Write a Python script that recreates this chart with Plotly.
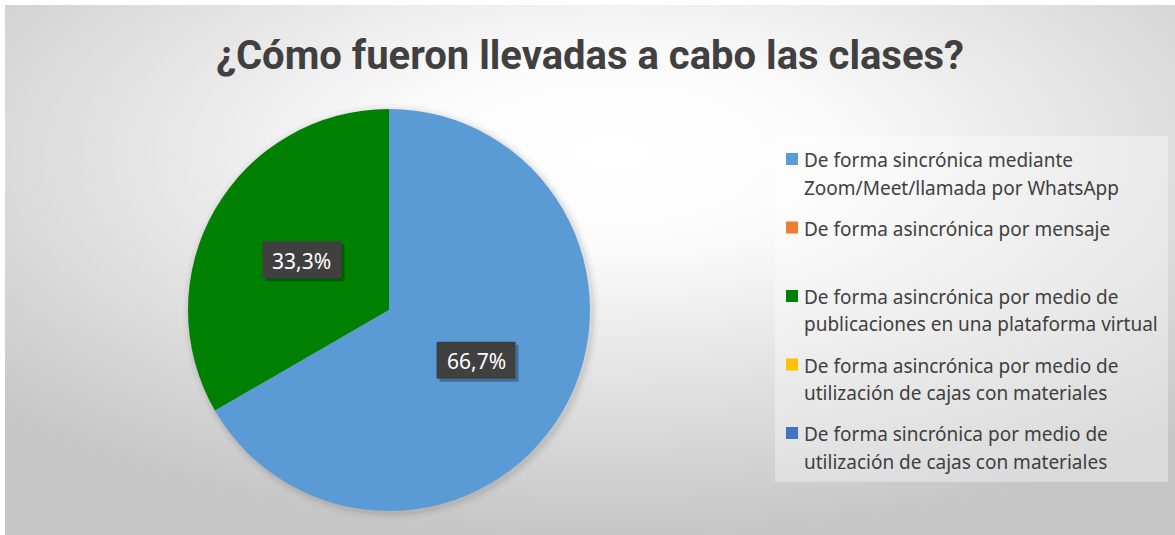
import base64
import math
import plotly.graph_objects as go

# Data
labels = [
    "De forma sincrónica mediante<br>Zoom/Meet/llamada por WhatsApp",
    "De forma asincrónica por mensaje<br>",
    "De forma asincrónica por medio de<br>publicaciones en una plataforma virtual",
    "De forma asincrónica por medio de<br>utilización de cajas con materiales",
    "De forma sincrónica por medio de<br>utilización de cajas con materiales",
]
values = [2, 0, 1, 0, 0]
colors = ["#5b9bd5", "#ed7d31", "#008000", "#ffc000", "#4472c4"]

title_text = "¿Cómo fueron llevadas a cabo las clases?"

W, H = 1175, 535

# Pie placement (pixels)
cx, cy, rad = 389, 310, 201
dom_x = [(cx - rad) / W, (cx + rad) / W]
dom_y = [(H - cy - rad) / H, (H - cy + rad) / H]


def px(x):
    return x / W


def py(y):
    return 1 - y / H


# Radial gradient background as inline SVG
svg = f"""<svg xmlns='http://www.w3.org/2000/svg' width='{W}' height='{H}' preserveAspectRatio='none'>
<defs><radialGradient id='g' cx='0.52' cy='0.28' r='0.72'>
<stop offset='0' stop-color='#ffffff'/>
<stop offset='0.25' stop-color='#fbfbfb'/>
<stop offset='1' stop-color='#c6c6c6'/>
</radialGradient></defs>
<rect width='100%' height='100%' fill='url(#g)'/>
</svg>"""
bg_src = "data:image/svg+xml;base64," + base64.b64encode(svg.encode("utf-8")).decode()

fig = go.Figure()

fig.add_trace(go.Pie(
    labels=labels,
    values=values,
    sort=False,
    direction="clockwise",
    rotation=0,
    marker=dict(colors=colors, line=dict(width=0)),
    textinfo="none",
    hoverinfo="label+percent",
    domain=dict(x=dom_x, y=dom_y),
    showlegend=False,
))

shapes = []
annotations = []

# soft shadow behind the pie
for extra, alpha in [(7, 0.025), (4, 0.035), (2, 0.045)]:
    shapes.append(dict(
        type="circle", xref="paper", yref="paper", layer="below",
        x0=px(cx - rad - extra + 2), x1=px(cx + rad + extra + 2),
        y0=py(cy + rad + extra + 2), y1=py(cy - rad - extra + 2),
        fillcolor=f"rgba(0,0,0,{alpha})", line=dict(width=0),
    ))

# Percentage labels in dark boxes, placed at mid-angle of each slice
box_w, box_h = 79, 37
total = sum(values)
start = 0.0
for v in values:
    frac = v / total
    if v > 0:
        mid = (start + frac / 2) * 2 * math.pi
        r_lab = 0.5 * rad
        lx = cx + r_lab * math.sin(mid)
        ly = cy - r_lab * math.cos(mid)
        txt = f"{frac * 100:.1f}%".replace(".", ",")
        # drop shadow, then box
        for off, fill in [(3, "rgba(0,0,0,0.28)"), (0, "#404040")]:
            shapes.append(dict(
                type="rect", xref="paper", yref="paper",
                x0=px(lx - box_w / 2 + off), x1=px(lx + box_w / 2 + off),
                y0=py(ly + box_h / 2 + off), y1=py(ly - box_h / 2 + off),
                fillcolor=fill, line=dict(width=0),
            ))
        annotations.append(dict(
            x=px(lx), y=py(ly + 1), xref="paper", yref="paper",
            xanchor="center", yanchor="middle",
            text=txt, showarrow=False,
            font=dict(family="Noto Sans", size=21, color="white"),
        ))
    start += frac

# Legend drawn by hand so the line spacing matches
shapes.append(dict(
    type="rect", xref="paper", yref="paper",
    x0=px(775), x1=px(1168), y0=py(482), y1=py(136),
    fillcolor="rgba(255,255,255,0.35)", line=dict(width=0),
))
leg_y0, leg_pitch, leg_line = 159, 68.5, 27.5
for i, (lab, col) in enumerate(zip(labels, colors)):
    y_item = leg_y0 + i * leg_pitch
    shapes.append(dict(
        type="rect", xref="paper", yref="paper",
        x0=px(786), x1=px(798), y0=py(y_item + 6), y1=py(y_item - 6),
        fillcolor=col, line=dict(width=0),
    ))
    for j, line in enumerate(lab.split("<br>")):
        if not line:
            continue
        annotations.append(dict(
            x=px(802), y=py(y_item + j * leg_line + 1), xref="paper", yref="paper",
            xanchor="left", yanchor="middle", text=line, showarrow=False,
            font=dict(family="Noto Sans", size=19, color="#404040"),
        ))

fig.update_layout(
    width=W, height=H,
    margin=dict(l=0, r=0, t=0, b=0),
    paper_bgcolor="white",
    plot_bgcolor="rgba(0,0,0,0)",
    showlegend=False,
    title=dict(
        text="<b>" + title_text + "</b>",
        x=590 / W, xanchor="center",
        y=1 - 55 / H, yanchor="middle",
        font=dict(family="Roboto", size=40, color="#404040"),
    ),
    shapes=shapes,
    annotations=annotations,
    images=[dict(
        source=bg_src, xref="paper", yref="paper",
        x=5 / W, y=1 - 5 / H, sizex=(W - 5) / W, sizey=(H - 5) / H,
        xanchor="left", yanchor="top", sizing="stretch", layer="below",
    )],
)

fig.write_html(
    "out.html",
    config={"displayModeBar": False},
    post_script="document.body.style.margin='0';",
)
